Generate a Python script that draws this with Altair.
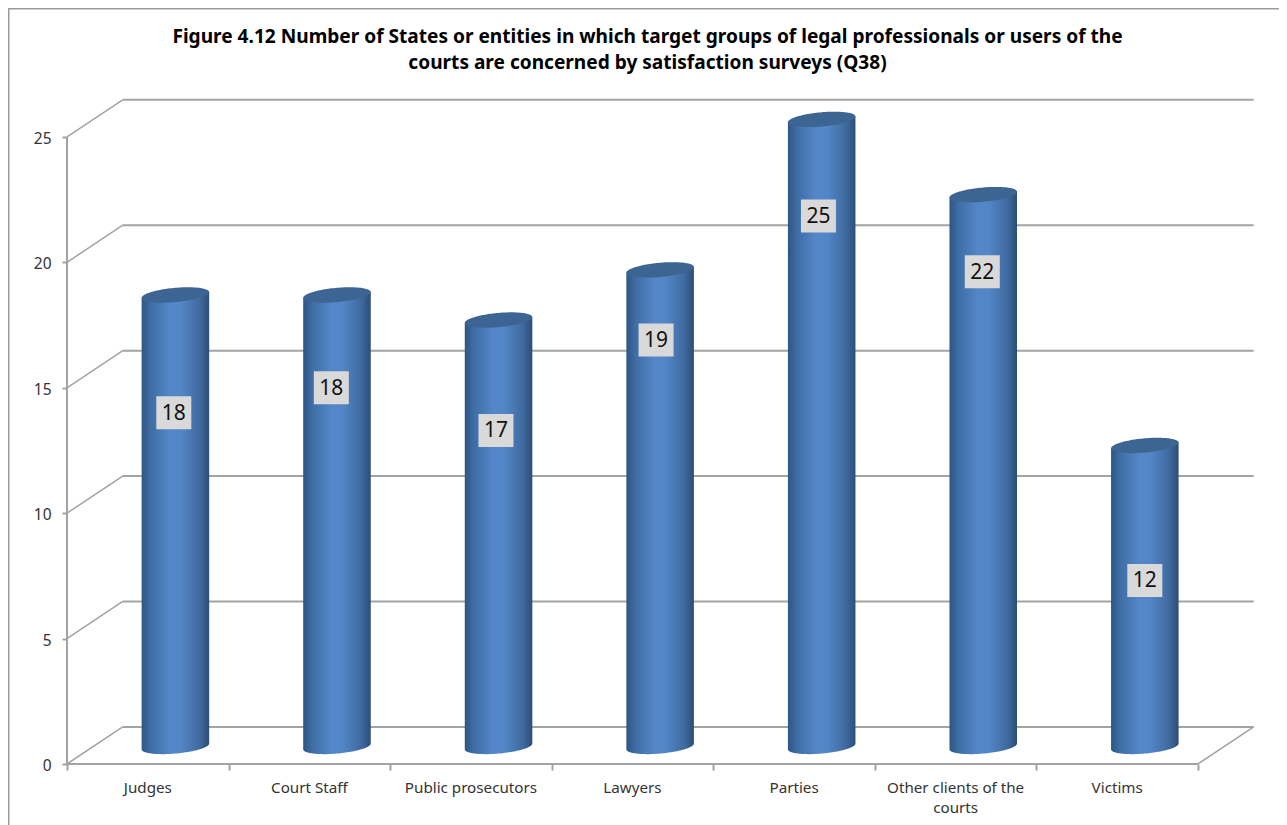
import altair as alt
import numpy as np
import pandas as pd

TITLE = ["Figure 4.12 Number of States or entities in which target groups of legal professionals or users of the",
         "courts are concerned by satisfaction surveys (Q38)"]
categories = ["Judges", "Court Staff", "Public prosecutors", "Lawyers", "Parties",
              "Other clients of the courts", "Victims"]
label_lines = [["Judges"], ["Court Staff"], ["Public prosecutors"], ["Lawyers"], ["Parties"],
               ["Other clients of the", "courts"], ["Victims"]]
values = [18, 18, 17, 19, 25, 22, 12]
# height (in axis units) at which each data label sits on its cylinder
label_levels = [14.0, 15.0, 13.3, 16.9, 21.85, 19.62, 7.32]
label_nudge = [-0.01, -0.035, -0.016, -0.025, -0.02, -0.006, 0.0]
y_ticks = [0, 5, 10, 15, 20, 25]
x_ticks = [0, 1, 2, 3, 4, 5, 6, 7]

# layout in axis units
W, H = 1271, 817
X_DOM = [-0.3652, 7.5015]
Y_DOM = [-2.432, 30.14]
DEPTH_X, DEPTH_Y = 0.345, 1.48
BAR_CX, BAR_HALF = 0.671, 0.209
BAR_LIFT, ELL_B, ELL_TILT = 0.70, 0.285, 0.115
GREY = "#a3a3a3"
FONT = "Noto Sans"

x_scale = alt.Scale(domain=X_DOM, nice=False, zero=False)
y_scale = alt.Scale(domain=Y_DOM, nice=False, zero=False)
x_axis = alt.Axis(values=x_ticks, labels=False, domain=False, grid=False, ticks=True,
                  tickColor=GREY, tickWidth=2, tickSize=6, offset=-61)
y_axis = alt.Axis(values=y_ticks, domain=False, grid=False, ticks=True, tickColor=GREY,
                  tickWidth=2, tickSize=5, offset=-59, labelPadding=11, labelFontSize=15.5,
                  labelFont=FONT, labelColor="#333333", labelBaseline="middle", labelOffset=1.5)


def X(f="x"):
    return alt.X(f"{f}:Q", scale=x_scale, axis=x_axis, title=None)


def Y(f="y"):
    return alt.Y(f"{f}:Q", scale=y_scale, axis=y_axis, title=None)


# walls
walls = pd.DataFrame({"level": y_ticks})
walls["x0"] = 0.0
walls["xb"] = DEPTH_X
walls["xe"] = 7 + DEPTH_X
walls["yb"] = walls["level"] + DEPTH_Y

back = alt.Chart(walls).mark_rule(color=GREY, strokeWidth=2).encode(x=X("xb"), x2="xe:Q", y=Y("yb"))
diag = alt.Chart(walls).mark_rule(color=GREY, strokeWidth=1.5).encode(
    x=X("x0"), x2="xb:Q", y=Y("level"), y2="yb:Q")
floor_right = alt.Chart(pd.DataFrame({"x": [7.0], "x2": [7 + DEPTH_X], "y": [0.0], "y2": [DEPTH_Y]})).mark_rule(
    color=GREY, strokeWidth=1.5).encode(x=X(), x2="x2:Q", y=Y(), y2="y2:Q")
front_v = alt.Chart(pd.DataFrame({"x": [0.0], "y": [0.0], "y2": [25.0]})).mark_rule(
    color=GREY, strokeWidth=2).encode(x=X(), y=Y(), y2="y2:Q")
front_h = alt.Chart(pd.DataFrame({"x": [0.0], "x2": [7.0], "y": [0.0]})).mark_rule(
    color=GREY, strokeWidth=2).encode(x=X(), x2="x2:Q", y=Y())

# outer frame (top and left only are visible in the reference)
frame_l = alt.Chart(pd.DataFrame({"x": [X_DOM[0]], "y": [Y_DOM[0]], "y2": [Y_DOM[1]]})).mark_rule(
    color="#9a9a9a", strokeWidth=3).encode(x=X(), y=Y(), y2="y2:Q")
frame_t = alt.Chart(pd.DataFrame({"x": [X_DOM[0]], "x2": [X_DOM[1]], "y": [Y_DOM[1]]})).mark_rule(
    color="#9a9a9a", strokeWidth=3).encode(x=X(), x2="x2:Q", y=Y())

# cylinders, sampled outline of the sheared ellipses
u = np.cos(np.linspace(np.pi, 0, 61))
rows_body, rows_top = [], []
for i, (c, v) in enumerate(zip(categories, values)):
    cx = i + BAR_CX
    for t in u:
        px = cx + BAR_HALF * t
        tilt = ELL_TILT * t
        arc = ELL_B * np.sqrt(max(0.0, 1 - t * t))
        top_c = v + BAR_LIFT + tilt
        bot_c = BAR_LIFT + tilt
        rows_body.append({"cat": c, "x": px, "y": top_c, "y2": bot_c - arc})
        rows_top.append({"cat": c, "x": px, "y": top_c + arc, "y2": top_c - arc})
body_df = pd.DataFrame(rows_body)
top_df = pd.DataFrame(rows_top)

grad = alt.Gradient(
    gradient="linear", x1=0, x2=1, y1=0, y2=0,
    stops=[alt.GradientStop(offset=0, color="#2f5584"),
           alt.GradientStop(offset=0.14, color="#3f6ea6"),
           alt.GradientStop(offset=0.42, color="#5487c9"),
           alt.GradientStop(offset=0.58, color="#5386c7"),
           alt.GradientStop(offset=0.86, color="#3f6a9f"),
           alt.GradientStop(offset=1, color="#2d4d74")])
body = alt.Chart(body_df).mark_area(fill=grad, interpolate="linear").encode(
    x=X(), y=Y(), y2="y2:Q", detail="cat:N")
top = alt.Chart(top_df).mark_area(fill="#3c6594", interpolate="linear").encode(
    x=X(), y=Y(), y2="y2:Q", detail="cat:N")

# data labels
lab_df = pd.DataFrame({
    "x": [i + BAR_CX + n for i, n in enumerate(label_nudge)],
    "y": label_levels, "v": values})
boxes = alt.Chart(lab_df).mark_rect(color="#d9d9d9", width=35, height=33).encode(x=X(), y=Y())
nums = alt.Chart(lab_df).mark_text(font=FONT, fontSize=21, color="#111111", baseline="middle", dy=1).encode(
    x=X(), y=Y(), text="v:Q")

# category labels
cat_df = pd.DataFrame({"x": [i + 0.5 for i in range(7)], "y": [-0.95] * 7, "lab": label_lines})
cats = alt.Chart(cat_df).mark_text(font=FONT, fontSize=15.2, color="#333333", baseline="middle",
                                   lineHeight=20).encode(x=X(), y=Y(), text="lab")

chart = alt.layer(back, diag, floor_right, front_h, front_v, frame_l, frame_t,
                  body, top, boxes, nums, cats).properties(
    width=W, height=H, padding=0,
    autosize=alt.AutoSizeParams(type="none"),
    title=alt.TitleParams(text=TITLE, font=FONT, fontSize=19.1, fontWeight="bold", color="#000000",
                          anchor="middle", offset=-67, dx=4, lineHeight=26),
).configure_view(stroke=None)

chart.save("out.html", embed_options={"renderer": "svg", "actions": False})
